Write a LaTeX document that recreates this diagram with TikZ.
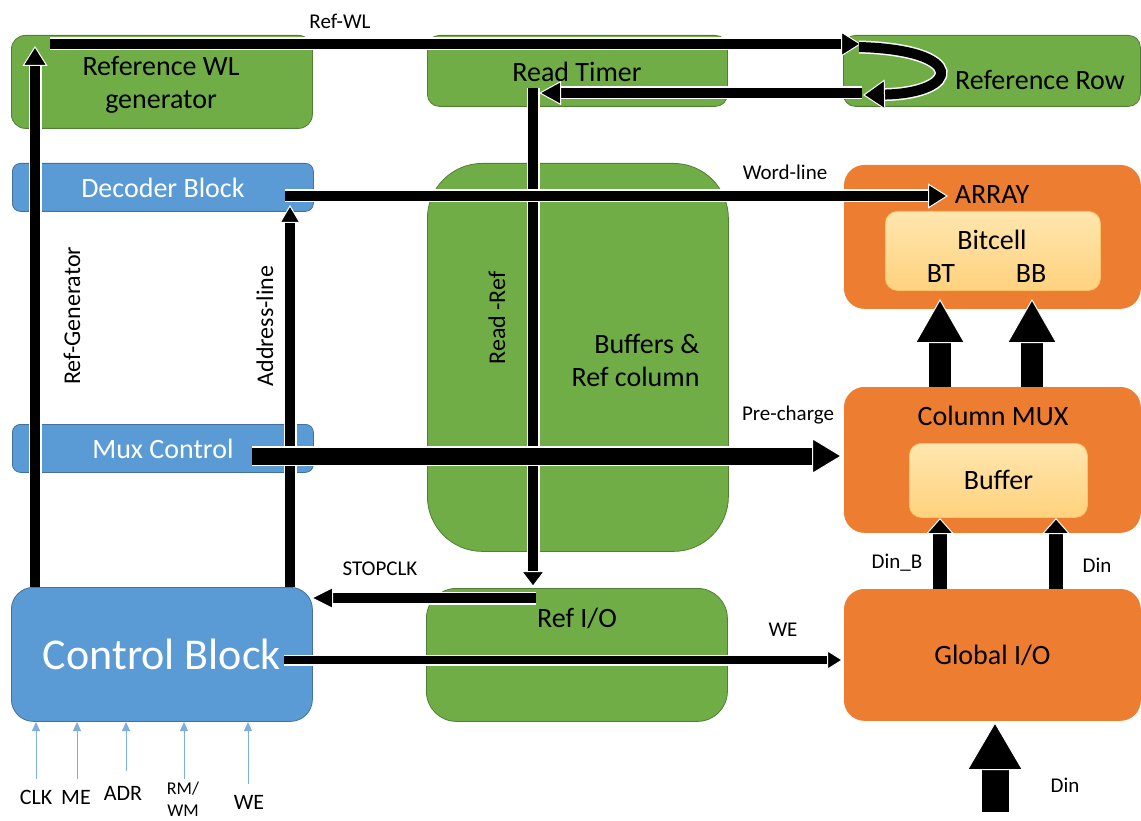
\documentclass[tikz,border=0pt]{standalone}
\usepackage{fontspec}
\setmainfont{Carlito}
\usetikzlibrary{arrows.meta}
\definecolor{grn}{HTML}{70AD47}
\definecolor{grnD}{HTML}{507E32}
\definecolor{blu}{HTML}{5B9BD5}
\definecolor{bluD}{HTML}{41719C}
\definecolor{org}{HTML}{ED7D31}
\definecolor{ltA}{HTML}{FFE6AE}
\definecolor{ltB}{HTML}{FFD27E}
\definecolor{ltD}{HTML}{F8C56A}
\definecolor{inblu}{HTML}{7FAEDC}
\begin{document}
\begin{tikzpicture}[x=1pt,y=-1pt,
  boxbase/.style={inner sep=0pt, anchor=north west, line width=0.8pt},
  gbox/.style={boxbase, fill=grn, draw=grnD, rounded corners=#1},
  bbox/.style={boxbase, fill=blu, draw=bluD, rounded corners=#1, text=white},
  obox/.style={boxbase, fill=org, draw=org, rounded corners=#1},
  lbox/.style={boxbase, top color=ltA, bottom color=ltB, draw=ltD, rounded corners=#1},
  fbig/.style={font=\fontsize{28pt}{33pt}\selectfont},
  fhuge/.style={font=\fontsize{44pt}{50pt}\selectfont},
  fsig/.style={font=\fontsize{21pt}{24pt}\selectfont},
  fvert/.style={font=\fontsize{24pt}{28pt}\selectfont, rotate=90},
  fin/.style={font=\fontsize{22pt}{26pt}\selectfont},
  wire/.style n args={3}{draw=black, line width=#1,
    -{Triangle[length=#2,width=#3,line width=1pt,color=white,fill=black]},
    preaction={draw=white, line width=#1+3pt, arrows=-, shorten >=#2}},
  inarrow/.style={draw=inblu, line width=1pt, -{Triangle[length=9pt,width=8pt]}}
]
\useasboundingbox (0,0) rectangle (1141,821);

% ---------- boxes ----------
\node[gbox=14pt, minimum width=301pt, minimum height=93pt] (rwl) at (11,35) {};
\node[gbox=12pt, minimum width=300pt, minimum height=71pt] (rt) at (427,35) {};
\node[gbox=12pt, minimum width=297pt, minimum height=71pt] (rr) at (843,35) {};
\node[bbox=8pt, minimum width=301pt, minimum height=48pt, fbig] (dec) at (12,163) {Decoder Block};
\node[bbox=8pt, minimum width=301pt, minimum height=48pt, fbig] (mux) at (12,424) {Mux Control};
\node[bbox=22pt, minimum width=301pt, minimum height=134pt, fhuge] (ctl) at (11,587) {Control Block};
\node[gbox=55pt, minimum width=301pt, minimum height=388pt] (buf) at (427,163) {};
\node[gbox=30pt, minimum width=301pt, minimum height=133pt] (rio) at (426,588) {};
\node[obox=20pt, minimum width=296pt, minimum height=143pt] (arr) at (844,165) {};
\node[lbox=12pt, minimum width=215pt, minimum height=79pt] (bit) at (885,211) {};
\node[obox=20pt, minimum width=296pt, minimum height=145pt] (cmux) at (844,387) {};
\node[lbox=12pt, minimum width=178pt, minimum height=74pt, fbig] (bufi) at (909,443) {Buffer};
\node[obox=20pt, minimum width=296pt, minimum height=131pt, fbig] (gio) at (844,589) {Global I/O};

% ---------- box labels ----------
\node[fbig, align=center] (rwlL) at (161,85) {Reference WL\\generator};
\node[fbig] (rtL) at (577,72) {Read Timer};
\node[fbig] (rrL) at (1040,80) {Reference Row};
\node[fbig, align=right, anchor=east] (bufL) at (703,360) {Buffers \&\\Ref column};
\node[fbig] (rioL) at (577,618) {Ref I/O};
\node[fbig] (arrL) at (992,195) {ARRAY};
\node[fbig] (bitL) at (992,240) {Bitcell};
\node[fbig] (btL) at (941,274) {BT};
\node[fbig] (bbL) at (1031,274) {BB};
\node[fbig] (cmuxL) at (993,416) {Column MUX};

% ---------- coordinates ----------
\coordinate (rgS) at (35,587);   \coordinate (rgE) at (35,46);
\coordinate (rwlS) at (50,44);   \coordinate (rwlE) at (861,44);
\coordinate (crvS) at (859,47);  \coordinate (crvE) at (863,95);
\coordinate (retS) at (862,93);  \coordinate (retE) at (539,93);
\coordinate (rrfS) at (533,88);  \coordinate (rrfE) at (533,587);
\coordinate (stS) at (536,598);  \coordinate (stE) at (311,598);
\coordinate (adS) at (290,587);  \coordinate (adE) at (290,205);
\coordinate (wlS) at (285,196);  \coordinate (wlE) at (948,196);
\coordinate (pcS) at (252,456);  \coordinate (pcE) at (842,456);
\coordinate (weS) at (284,660);  \coordinate (weE) at (843,660);
\coordinate (btS) at (940,387);  \coordinate (btE) at (940,299);
\coordinate (bbS) at (1032,387); \coordinate (bbE) at (1032,299);
\coordinate (dbS) at (940,589);  \coordinate (dbE) at (940,518);
\coordinate (dnS) at (1056,589); \coordinate (dnE) at (1056,518);
\coordinate (diS) at (995,812);  \coordinate (diE) at (995,722);

% ---------- connectors ----------
\draw[wire={10pt}{20pt}{25pt}] (rgS) -- (rgE);
\draw[wire={10pt}{20pt}{25pt}] (rwlS) -- (rwlE);
\draw[wire={10pt}{22pt}{30pt}] (crvS) .. controls (968,50) and (960,93) .. (crvE);
\draw[wire={10pt}{16pt}{24pt}] (rrfS) -- (rrfE);
\draw[wire={10pt}{22pt}{24pt}] (retS) -- (retE);
\draw[wire={10pt}{22pt}{22pt}] (stS) -- (stE);
\draw[wire={10pt}{18pt}{21pt}] (adS) -- (adE);
\draw[wire={10pt}{20pt}{25pt}] (wlS) -- (wlE);
\draw[wire={17pt}{30pt}{36pt}] (pcS) -- (pcE);
\draw[wire={8pt}{16pt}{20pt}] (weS) -- (weE);
\draw[wire={22pt}{44pt}{50pt}] (btS) -- (btE);
\draw[wire={22pt}{44pt}{50pt}] (bbS) -- (bbE);
\draw[wire={14pt}{16pt}{28pt}] (dbS) -- (dbE);
\draw[wire={14pt}{16pt}{28pt}] (dnS) -- (dnE);
\draw[wire={27pt}{48pt}{56pt}] (diS) -- (diE);

% ---------- signal labels ----------
\node[fsig] (lRefWL) at (340,21) {Ref-WL};
\node[fsig] (lWord) at (785,172) {Word-line};
\node[fsig] (lPre) at (788,415) {Pre-charge};
\node[fsig] (lStop) at (380,569) {STOPCLK};
\node[fsig] (lWE) at (783,630) {WE};
\node[fsig] (lDinB) at (897,563) {Din\_B};
\node[fsig] (lDin) at (1097,565) {Din};
\node[fsig] (lDin2) at (1065,785) {Din};
\node[fvert] (lRG) at (72,316) {Ref-Generator};
\node[fvert] (lAL) at (265,326) {Address-line};
\node[fvert] (lRR) at (497,318) {Read -Ref};

% ---------- inputs to Control Block ----------
\coordinate (i1) at (36,779);  \coordinate (i1e) at (36,722);
\coordinate (i2) at (77,779);  \coordinate (i2e) at (77,722);
\coordinate (i3) at (126,771); \coordinate (i3e) at (126,722);
\coordinate (i4) at (184,779); \coordinate (i4e) at (184,722);
\coordinate (i5) at (248,784); \coordinate (i5e) at (248,722);
\draw[inarrow] (i1) -- (i1e);
\draw[inarrow] (i2) -- (i2e);
\draw[inarrow] (i3) -- (i3e);
\draw[inarrow] (i4) -- (i4e);
\draw[inarrow] (i5) -- (i5e);
\node[fin] (lCLK) at (36,797) {CLK};
\node[fin] (lME) at (76,797) {ME};
\node[fin] (lADR) at (123,793) {ADR};
\node[font=\fontsize{18pt}{22pt}\selectfont, align=center, inner sep=0pt] (lRM) at (183,799) {RM/\\WM};
\node[fin] (lWE2) at (249,802) {WE};
\end{tikzpicture}
\end{document}
